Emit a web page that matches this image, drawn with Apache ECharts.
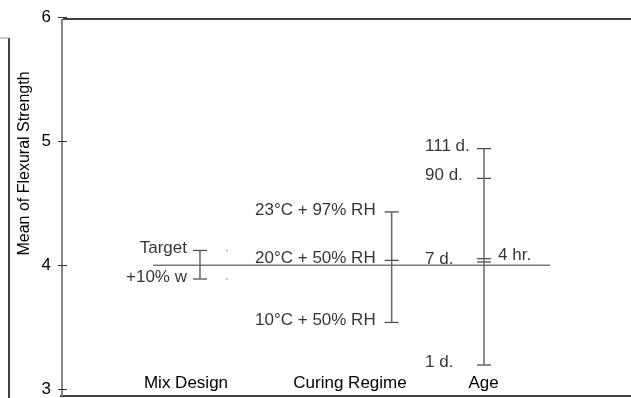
<!DOCTYPE html>
<html>
<head>
<meta charset="utf-8">
<script src="https://cdn.jsdelivr.net/npm/echarts@6/dist/echarts.min.js"></script>
<style>html,body{margin:0;padding:0;background:#fff}#c{width:631px;height:398px}</style>
</head>
<body>
<div id="c"></div>
<script>
// ---- data ----
const factorNames = ['Mix Design', 'Curing Regime', 'Age'];
const mixLevels = ['Target', '+10% w'];
const mixMeans = [4.12, 3.89];
const curingLevels = ['23°C + 97% RH', '20°C + 50% RH', '10°C + 50% RH'];
const curingMeans = [4.43, 4.04, 3.54];
const ageLevels = ['111 d.', '90 d.', '4 hr.', '7 d.', '1 d.'];
const ageMeans = [4.94, 4.70, 4.054, 4.027, 3.197];
const grandMean = 4.0;
const yTickValues = [3, 4, 5, 6];

// ---- layout (x positions in axis units 0..100) ----
const colX = [24.25, 57.94, 74.17];
const mixDotX = 29.0;
const meanLineX = [16.0, 85.76];

const FONT = 'Liberation Sans, Arial, sans-serif';

const chart = echarts.init(document.getElementById('c'), null, {renderer: 'canvas'});

function tickSeries(x, levels, means, labelFn) {
  return {
    type: 'scatter',
    symbol: 'rect',
    symbolSize: [14, 1.3],
    itemStyle: {color: '#222'},
    silent: true,
    data: levels.map((name, i) => ({
      value: [x, means[i]],
      name: name,
      label: Object.assign({show: true, color: '#000', fontSize: 17, fontFamily: FONT}, labelFn(name, i))
    })),
    label: {show: true, formatter: p => p.name, color: '#000', fontSize: 17, fontFamily: FONT}
  };
}
function rangeSeries(x, means) {
  return {
    type: 'line', silent: true, symbol: 'none',
    lineStyle: {color: '#666', width: 1.5},
    data: [[x, Math.min(...means)], [x, Math.max(...means)]]
  };
}

const series = [
  {
    type: 'line', silent: true, symbol: 'none',
    lineStyle: {color: '#7a7a7a', width: 1.5},
    data: [[meanLineX[0], grandMean], [meanLineX[1], grandMean]]
  },
  rangeSeries(colX[0], mixMeans),
  rangeSeries(colX[1], curingMeans),
  rangeSeries(colX[2], ageMeans),
  tickSeries(colX[0], mixLevels, mixMeans, () => ({position: 'left', distance: 6, offset: [0, -2]})),
  tickSeries(colX[1], curingLevels, curingMeans, () => ({position: 'left', distance: 9, offset: [0, -2]})),
  tickSeries(colX[2], ageLevels, ageMeans, (name) => name === '4 hr.'
    ? {position: 'right', distance: 7, offset: [0, -3]}
    : {position: [-52, 0], align: 'left', verticalAlign: 'middle', offset: [0, -2]}),
  {
    type: 'scatter', silent: true, symbol: 'rect', symbolSize: 1.6,
    itemStyle: {color: '#888'},
    data: mixMeans.map(v => [mixDotX, v])
  }
];

chart.setOption({
  animation: false,
  backgroundColor: '#fff',
  grid: {left: 62, right: 0, top: 17, bottom: 4},
  xAxis: {
    type: 'value', min: 0, max: 100, show: false
  },
  yAxis: {
    type: 'value', min: 3, max: 6, interval: 1, offset: -5,
    axisLine: {show: false},
    axisTick: {show: true, length: 9, lineStyle: {color: '#333', width: 1}},
    axisLabel: {color: '#000', fontSize: 17, fontFamily: FONT, margin: 16,
      formatter: v => yTickValues.includes(v) ? String(v) : ''},
    splitLine: {show: false}
  },
  graphic: [
    {type: 'line', shape: {x1: 63, y1: 19, x2: 631, y2: 19}, style: {stroke: '#000', lineWidth: 1.5}, silent: true},
    {type: 'line', shape: {x1: 60, y1: 396, x2: 631, y2: 396}, style: {stroke: '#000', lineWidth: 1.5}, silent: true},
    {type: 'line', shape: {x1: 62, y1: 19, x2: 62, y2: 396}, style: {stroke: '#888', lineWidth: 2}, silent: true},
    {type: 'line', shape: {x1: 9, y1: 38, x2: 9, y2: 398}, style: {stroke: '#000', lineWidth: 1.5}, silent: true},
    {type: 'line', shape: {x1: 0, y1: 38, x2: 9, y2: 38}, style: {stroke: '#999', lineWidth: 1}, silent: true},
    {type: 'text', x: 25, y: 163.5, rotation: Math.PI / 2, silent: true,
      style: {text: 'Mean of Flexural Strength', fill: '#000', font: '16px ' + FONT, textAlign: 'center', textVerticalAlign: 'middle'}},
    {type: 'text', x: 186, y: 383, silent: true,
      style: {text: factorNames[0], fill: '#000', font: '17px ' + FONT, textAlign: 'center', textVerticalAlign: 'middle'}},
    {type: 'text', x: 350, y: 383, silent: true,
      style: {text: factorNames[1], fill: '#000', font: '17px ' + FONT, textAlign: 'center', textVerticalAlign: 'middle'}},
    {type: 'text', x: 483.5, y: 383, silent: true,
      style: {text: factorNames[2], fill: '#000', font: '17px ' + FONT, textAlign: 'center', textVerticalAlign: 'middle'}}
  ],
  series: series
});
</script>
</body>
</html>
